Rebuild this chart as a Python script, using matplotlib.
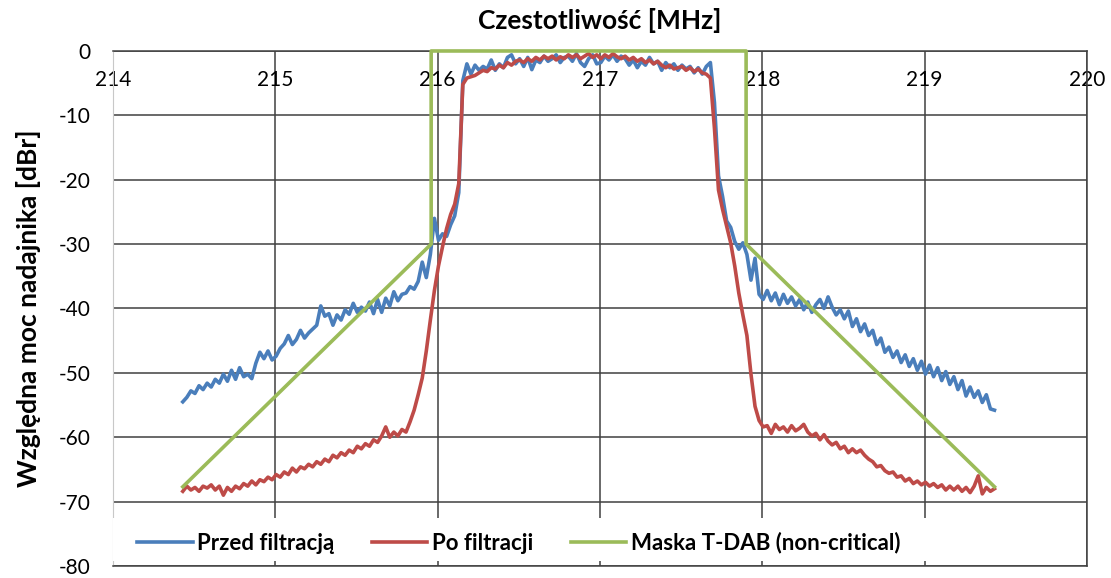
import numpy as np
import matplotlib
matplotlib.use("Agg")
import matplotlib.pyplot as plt
from matplotlib.patches import Rectangle

plt.rcParams['font.family'] = ['Lato', 'DejaVu Sans']
plt.rcParams['axes.unicode_minus'] = False

# === Data ===
freq = np.linspace(214.43, 219.43, 201)  # MHz, measurement sweep

przed = [
    -54.5, -53.8, -52.8, -53.2, -52.0, -52.6, -51.6, -52.2, -51.0, -51.6,
    -50.2, -51.3, -49.6, -51.0, -49.2, -50.6, -50.2, -50.9, -48.5, -46.8,
    -47.8, -46.6, -48.0, -47.4, -46.2, -45.5, -44.2, -45.6, -44.8, -43.4,
    -44.6, -43.8, -43.2, -42.6, -39.6, -41.2, -40.8, -42.6, -41.0, -41.8,
    -40.2, -40.9, -39.2, -40.6, -39.8, -40.4, -39.0, -40.8, -38.6, -40.6,
    -38.4, -39.6, -37.4, -38.8, -37.8, -37.6, -36.6, -37.0, -35.8, -32.8,
    -35.2, -31.6, -26.0, -29.4, -28.4, -28.8, -27.0, -25.6, -22.0, -4.6,
    -2.0, -3.6, -2.2, -3.0, -2.4, -2.8, -1.4, -3.0, -2.0, -2.6,
    -1.0, -0.6, -2.0, -1.2, -2.4, -1.0, -2.9, -1.4, -1.8, -0.8,
    -1.6, -1.2, -0.6, -1.8, -1.0, -0.8, -1.6, -0.4, -1.8, -2.4,
    -1.2, -0.6, -2.0, -1.8, -0.8, -1.4, -0.6, -1.6, -0.8, -1.2,
    -2.2, -1.4, -2.6, -1.6, -2.2, -1.0, -2.0, -1.6, -3.0, -1.8,
    -2.6, -2.0, -3.0, -2.2, -2.8, -2.4, -3.4, -2.6, -3.6, -2.4,
    -1.8, -8.0, -19.4, -22.6, -26.4, -27.4, -29.6, -30.8, -29.8, -31.6,
    -35.6, -32.2, -37.8, -38.6, -37.2, -38.8, -37.6, -39.4, -37.8, -39.2,
    -38.2, -39.6, -38.6, -40.2, -39.0, -40.6, -39.4, -38.6, -40.0, -38.2,
    -39.8, -41.0, -40.2, -41.6, -40.4, -42.8, -41.6, -43.6, -42.4, -44.2,
    -43.4, -45.6, -44.6, -46.8, -46.0, -47.6, -46.6, -48.4, -47.2, -49.0,
    -47.8, -49.6, -48.2, -50.2, -48.8, -50.6, -49.2, -51.2, -49.8, -51.8,
    -50.6, -52.6, -51.2, -53.6, -52.2, -53.8, -52.8, -54.6, -53.4, -55.6,
    -55.8,
]

po = [
    -68.4, -67.6, -68.2, -67.8, -68.4, -67.6, -67.9, -67.4, -68.2, -67.6,
    -69.0, -67.8, -68.4, -67.6, -68.0, -67.2, -67.6, -66.8, -67.4, -66.6,
    -66.9, -66.2, -66.6, -65.8, -66.2, -65.4, -65.8, -64.8, -65.4, -64.6,
    -64.9, -64.2, -64.6, -63.8, -64.2, -63.4, -63.8, -62.8, -63.2, -62.4,
    -62.8, -62.0, -62.4, -61.4, -61.8, -61.0, -61.4, -60.4, -60.8, -59.8,
    -58.4, -60.0, -59.2, -59.8, -58.8, -59.2, -57.6, -55.8, -53.4, -50.8,
    -46.6, -41.8, -37.2, -33.4, -30.4, -27.6, -25.4, -23.8, -20.6, -5.2,
    -4.2, -4.0, -3.8, -3.4, -3.0, -3.2, -2.6, -2.8, -2.2, -2.6,
    -1.8, -2.2, -1.6, -1.4, -1.8, -1.2, -1.6, -1.0, -1.4, -0.8,
    -1.2, -0.8, -1.4, -0.9, -1.2, -0.6, -1.0, -0.6, -1.2, -0.8,
    -0.4, -1.0, -0.6, -1.2, -0.6, -1.0, -0.4, -0.9, -1.2, -0.8,
    -1.4, -1.0, -1.6, -1.2, -1.8, -1.4, -2.0, -1.6, -2.2, -2.6,
    -2.2, -2.8, -2.6, -2.4, -3.0, -2.6, -3.2, -2.8, -3.4, -3.6,
    -4.2, -12.0, -21.6, -24.6, -27.2, -29.8, -33.4, -37.6, -41.0, -44.2,
    -50.2, -55.2, -57.4, -58.4, -58.2, -59.4, -58.0, -58.8, -58.4, -59.2,
    -58.2, -59.0, -58.6, -58.0, -59.2, -59.8, -59.4, -60.4, -59.6, -60.6,
    -61.2, -60.8, -61.8, -61.4, -62.4, -61.8, -62.4, -62.0, -62.8, -63.4,
    -63.8, -64.6, -64.4, -65.2, -65.6, -65.4, -66.2, -66.0, -66.8, -66.4,
    -67.2, -66.8, -67.4, -67.0, -67.6, -67.2, -67.8, -67.4, -68.2, -67.6,
    -68.2, -67.6, -68.4, -67.8, -68.6, -67.6, -66.0, -68.8, -67.8, -68.4,
    -68.0,
]

# T-DAB non-critical mask
mask_f = [214.43, 215.96, 215.96, 217.90, 217.90, 219.43]
mask_db = [-67.7, -30.0, 0.0, 0.0, -30.0, -67.7]

xticks = [214, 215, 216, 217, 218, 219, 220]
yticks = [0, -10, -20, -30, -40, -50, -60, -70, -80]

c_blue = '#4A7EBB'
c_red = '#BE4B48'
c_green = '#9BBB59'
c_grid = '#404040'

# === Plotting ===
fig = plt.figure(figsize=(11.11, 5.78), dpi=100)
ax = fig.add_axes([0.1017, 0.0208, 0.8767, 0.891])

ax.plot(freq, przed, color=c_blue, lw=2.6, label='Przed filtracją', zorder=3,
        solid_joinstyle='round')
ax.plot(freq, po, color=c_red, lw=2.6, label='Po filtracji', zorder=3.2,
        solid_joinstyle='round')
ax.plot(mask_f, mask_db, color=c_green, lw=2.6, label='Maska T-DAB (non-critical)',
        zorder=4, clip_on=False)

ax.set_xlim(214, 220)
ax.set_ylim(-80, 0)
ax.set_xticks(xticks)
ax.set_yticks(yticks)
ax.set_axisbelow(True)
ax.grid(True, color=c_grid, linewidth=1.1)

# x axis sits at y=0 (top), labels just below it
ax.xaxis.tick_top()
ax.tick_params(axis='x', length=0, pad=-28, labelsize=15)
ax.tick_params(axis='y', length=0, pad=16, labelsize=15)

for side in ['top', 'right', 'bottom']:
    ax.spines[side].set_color(c_grid)
    ax.spines[side].set_linewidth(1.1)
ax.spines['left'].set_color('#c8c8c8')

ax.set_title('Czestotliwość [MHz]', fontsize=19, fontweight='bold', pad=16)
ax.set_ylabel('Względna moc nadajnika [dBr]', fontsize=19, fontweight='bold')
ax.yaxis.set_label_coords(-0.074, 0.5)

# white legend area across the bottom
ax.add_patch(Rectangle((0.0, 0.009), 0.997, 0.085, transform=ax.transAxes,
                       facecolor='white', edgecolor='none', zorder=2.7))
leg = ax.legend(loc='center left', bbox_to_anchor=(0.0246, 0.0447), ncol=3,
                frameon=False, borderpad=0, borderaxespad=0,
                handlelength=2.5, handletextpad=0.22, columnspacing=1.67,
                prop={'size': 16, 'weight': 'bold'})
leg.set_zorder(5)

fig.savefig('out.png', dpi=100)
